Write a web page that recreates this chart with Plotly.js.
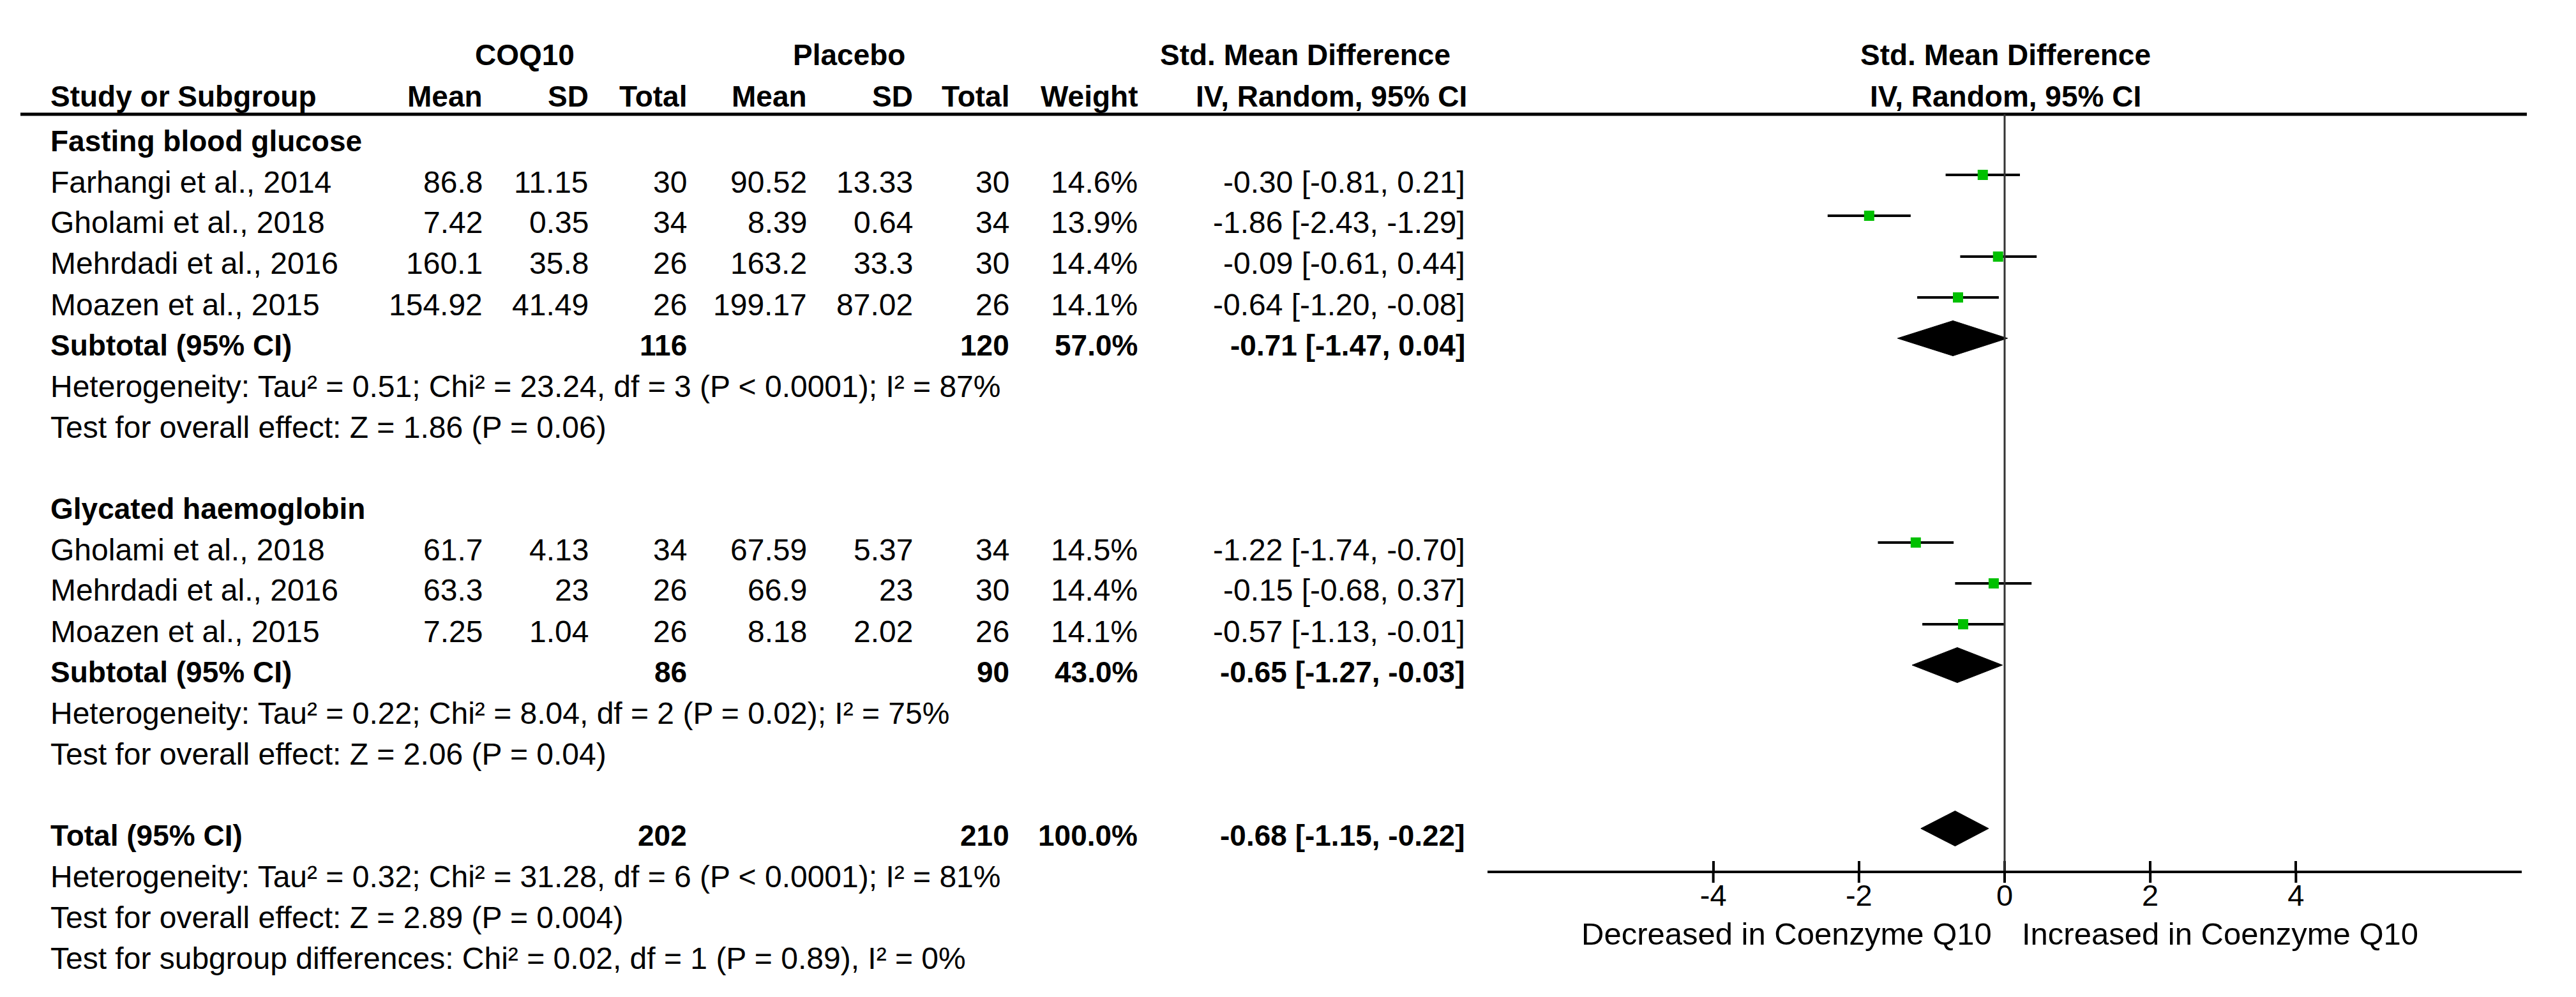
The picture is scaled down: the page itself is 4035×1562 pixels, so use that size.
<!DOCTYPE html>
<html><head><meta charset="utf-8">
<script src="https://cdn.plot.ly/plotly-3.0.1.min.js"></script>
<style>html,body{margin:0;padding:0;background:#fff;}#chart{width:4035px;height:1562px;}</style>
</head><body><div id="chart"></div>
<script>
// ---------------- data ----------------
const subgroupNames = ["Fasting blood glucose", "Glycated haemoglobin"];

const fbgStudies = ["Farhangi et al., 2014", "Gholami et al., 2018", "Mehrdadi et al., 2016", "Moazen et al., 2015"];
const fbgCoqMean = [86.8, 7.42, 160.1, 154.92];
const fbgCoqSD = [11.15, 0.35, 35.8, 41.49];
const fbgCoqN = [30, 34, 26, 26];
const fbgPlaMean = [90.52, 8.39, 163.2, 199.17];
const fbgPlaSD = [13.33, 0.64, 33.3, 87.02];
const fbgPlaN = [30, 34, 30, 26];
const fbgWeight = [14.6, 13.9, 14.4, 14.1];
const fbgSMD = [-0.30, -1.86, -0.09, -0.64];
const fbgLo = [-0.81, -2.43, -0.61, -1.20];
const fbgHi = [0.21, -1.29, 0.44, -0.08];

const hbaStudies = ["Gholami et al., 2018", "Mehrdadi et al., 2016", "Moazen et al., 2015"];
const hbaCoqMean = [61.7, 63.3, 7.25];
const hbaCoqSD = [4.13, 23, 1.04];
const hbaCoqN = [34, 26, 26];
const hbaPlaMean = [67.59, 66.9, 8.18];
const hbaPlaSD = [5.37, 23, 2.02];
const hbaPlaN = [34, 30, 26];
const hbaWeight = [14.5, 14.4, 14.1];
const hbaSMD = [-1.22, -0.15, -0.57];
const hbaLo = [-1.74, -0.68, -1.13];
const hbaHi = [-0.70, 0.37, -0.01];

const summaryLabels = ["Subtotal (95% CI)", "Subtotal (95% CI)", "Total (95% CI)"];
const summaryCoqN = [116, 86, 202];
const summaryPlaN = [120, 90, 210];
const summaryWeight = [57.0, 43.0, 100.0];
const summarySMD = [-0.71, -0.65, -0.68];
const summaryLo = [-1.47, -1.27, -1.15];
const summaryHi = [0.04, -0.03, -0.22];

const heterogeneityText = [
  "Heterogeneity: Tau² = 0.51; Chi² = 23.24, df = 3 (P &lt; 0.0001); I² = 87%",
  "Heterogeneity: Tau² = 0.22; Chi² = 8.04, df = 2 (P = 0.02); I² = 75%",
  "Heterogeneity: Tau² = 0.32; Chi² = 31.28, df = 6 (P &lt; 0.0001); I² = 81%"
];
const overallEffectText = [
  "Test for overall effect: Z = 1.86 (P = 0.06)",
  "Test for overall effect: Z = 2.06 (P = 0.04)",
  "Test for overall effect: Z = 2.89 (P = 0.004)"
];
const subgroupDiffText = "Test for subgroup differences: Chi² = 0.02, df = 1 (P = 0.89), I² = 0%";

const groupHeaders = ["COQ10", "Placebo", "Std. Mean Difference"];
const columnHeaders = ["Study or Subgroup", "Mean", "SD", "Total", "Mean", "SD", "Total", "Weight", "IV, Random, 95% CI"];
const plotHeaders = ["Std. Mean Difference", "IV, Random, 95% CI"];
const tickValues = [-4, -2, 0, 2, 4];
const tickLabels = ["-4", "-2", "0", "2", "4"];
const axisLabels = ["Decreased in Coenzyme Q10", "Increased in Coenzyme Q10"];

// ---------------- layout constants ----------------
const W = 4035, H = 1562;
const FONT = "Liberation Sans, Arial, sans-serif";
const FS = 48, FSB = 46;
const ROW0 = 218, ROWH = 64;      // pixel of row 0 and row height
const AXIS_PX = 1364;             // x axis line pixel
const HEAD_LINE_PX = 179;
const MARK_OFF = 0.125;           // markers sit slightly above text centre
const TEXT_SHIFT = -3;
const COLX = {label: 77, cMean: 758, cSD: 924, cN: 1078, pMean: 1266, pSD: 1432, pN: 1583, w: 1784, ci: 2297};

const rowOfPx = p => (p - ROW0) / ROWH;
const xp = px => px / W;
const yp = row => 1 - (ROW0 + row * ROWH) / H;

const fmt2 = v => v.toFixed(2);
const ciText = (e, l, h) => fmt2(e) + " [" + fmt2(l) + ", " + fmt2(h) + "]";

const ann = [];
function txt(x, row, s, anchor, bold, size) {
  ann.push({xref: 'paper', yref: 'paper', x: xp(x), y: yp(row), text: bold ? '<b>' + s + '</b>' : s,
    showarrow: false, xanchor: anchor, yanchor: 'middle', yshift: TEXT_SHIFT,
    font: {family: FONT, size: size || (bold ? FSB : FS), color: '#000'}});
}

// headers
const h1 = rowOfPx(83), h2 = rowOfPx(148);
txt(822, h1, groupHeaders[0], 'center', true);
txt(1330, h1, groupHeaders[1], 'center', true);
txt(2044, h1, groupHeaders[2], 'center', true);
txt(3141, h1, plotHeaders[0], 'center', true);
txt(COLX.label, h2, columnHeaders[0], 'left', true);
const hdrX = [COLX.cMean, COLX.cSD, COLX.cN, COLX.pMean, COLX.pSD, COLX.pN, COLX.w];
for (let i = 0; i < hdrX.length; i++) txt(hdrX[i], h2, columnHeaders[i + 1], 'right', true);
txt(2085, h2, columnHeaders[8], 'center', true);
txt(3141, h2, plotHeaders[1], 'center', true);

// groups
const groups = [
  {names: fbgStudies, cm: fbgCoqMean, cs: fbgCoqSD, cn: fbgCoqN, pm: fbgPlaMean, ps: fbgPlaSD, pn: fbgPlaN, w: fbgWeight, e: fbgSMD, l: fbgLo, h: fbgHi},
  {names: hbaStudies, cm: hbaCoqMean, cs: hbaCoqSD, cn: hbaCoqN, pm: hbaPlaMean, ps: hbaPlaSD, pn: hbaPlaN, w: hbaWeight, e: hbaSMD, l: hbaLo, h: hbaHi}
];
const studyX = [], studyY = [], studyPlus = [], studyMinus = [];
const summaryRows = [];
let r = 0;
groups.forEach((g, gi) => {
  txt(COLX.label, r, subgroupNames[gi], 'left', true);
  g.names.forEach((n, i) => {
    const row = r + 1 + i;
    txt(COLX.label, row, n, 'left', false);
    txt(COLX.cMean, row, String(g.cm[i]), 'right');
    txt(COLX.cSD, row, String(g.cs[i]), 'right');
    txt(COLX.cN, row, String(g.cn[i]), 'right');
    txt(COLX.pMean, row, String(g.pm[i]), 'right');
    txt(COLX.pSD, row, String(g.ps[i]), 'right');
    txt(COLX.pN, row, String(g.pn[i]), 'right');
    txt(COLX.w, row, g.w[i].toFixed(1) + "%", 'right');
    txt(COLX.ci, row, ciText(g.e[i], g.l[i], g.h[i]), 'right');
    studyX.push(g.e[i]); studyY.push(row - MARK_OFF);
    studyPlus.push(g.h[i] - g.e[i]); studyMinus.push(g.e[i] - g.l[i]);
  });
  const sr = r + g.names.length + 1;
  summaryRows.push(sr);
  txt(COLX.label, sr + 1, heterogeneityText[gi], 'left');
  txt(COLX.label, sr + 2, overallEffectText[gi], 'left');
  r = sr + 4;
});
// total
summaryRows.push(r);
txt(COLX.label, r + 1, heterogeneityText[2], 'left');
txt(COLX.label, r + 2, overallEffectText[2], 'left');
txt(COLX.label, r + 3, subgroupDiffText, 'left');

summaryRows.forEach((sr, k) => {
  txt(COLX.label, sr, summaryLabels[k], 'left', true);
  txt(COLX.cN, sr, String(summaryCoqN[k]), 'right', true);
  txt(COLX.pN, sr, String(summaryPlaN[k]), 'right', true);
  txt(COLX.w, sr, summaryWeight[k].toFixed(1) + "%", 'right', true);
  txt(COLX.ci, sr, ciText(summarySMD[k], summaryLo[k], summaryHi[k]), 'right', true);
});

// axis side labels
const labRow = rowOfPx(1460);
txt(3122, labRow, axisLabels[0], 'right', false, 49);
txt(3165, labRow, axisLabels[1], 'left', false, 49);

// ---------------- traces ----------------
const traces = [];
const DH = 0.43; // diamond half height in rows
summaryRows.forEach((sr, k) => {
  const y = sr - MARK_OFF;
  traces.push({
    type: 'scatter', mode: 'lines', x: [summaryLo[k], summarySMD[k], summaryHi[k], summarySMD[k], summaryLo[k]],
    y: [y, y - DH, y, y + DH, y], fill: 'toself', fillcolor: '#000', line: {color: '#000', width: 1},
    hoverinfo: 'skip', showlegend: false, xaxis: 'x', yaxis: 'y'
  });
});
traces.push({
  type: 'scatter', mode: 'markers', x: studyX, y: studyY,
  marker: {symbol: 'square', size: 16, color: '#00c000', line: {width: 0}},
  error_x: {type: 'data', symmetric: false, array: studyPlus, arrayminus: studyMinus, color: '#000', thickness: 4, width: 0},
  showlegend: false, hoverinfo: 'skip', xaxis: 'x', yaxis: 'y'
});

const shapes = [
  {type: 'line', xref: 'paper', yref: 'paper', x0: xp(32), x1: xp(3958), y0: 1 - HEAD_LINE_PX / H, y1: 1 - HEAD_LINE_PX / H, line: {color: '#000', width: 5}},
  {type: 'line', xref: 'x', yref: 'paper', x0: 0, x1: 0, y0: 1 - HEAD_LINE_PX / H, y1: 1 - AXIS_PX / H, line: {color: '#333', width: 3}}
];
// lower half of the crossing tick marks
tickValues.forEach(v => shapes.push({type: 'line', xref: 'x', yref: 'paper', x0: v, x1: v,
  y0: 1 - AXIS_PX / H, y1: 1 - (AXIS_PX + 19) / H, line: {color: '#000', width: 4}}));

const layout = {
  width: W, height: H, autosize: false,
  margin: {l: 0, r: 0, t: 0, b: 0, pad: 0},
  paper_bgcolor: '#fff', plot_bgcolor: 'rgba(0,0,0,0)',
  showlegend: false,
  xaxis: {domain: [2330 / W, 3950 / W], range: [-7.1, 7.1], tickvals: tickValues, ticktext: tickLabels,
    ticks: 'inside', ticklen: 15, tickwidth: 4, tickcolor: '#000', showline: true, linewidth: 4, linecolor: '#000',
    showgrid: false, zeroline: false, tickfont: {family: FONT, size: 47, color: '#000'}, ticklabelstandoff: -5,
    fixedrange: true, anchor: 'y'},
  yaxis: {domain: [1 - AXIS_PX / H, 1], range: [rowOfPx(AXIS_PX), rowOfPx(0)], visible: false, showgrid: false,
    zeroline: false, fixedrange: true, anchor: 'x'},
  shapes: shapes,
  annotations: ann
};

Plotly.newPlot('chart', traces, layout, {displayModeBar: false, staticPlot: true});
</script>
</body></html>
